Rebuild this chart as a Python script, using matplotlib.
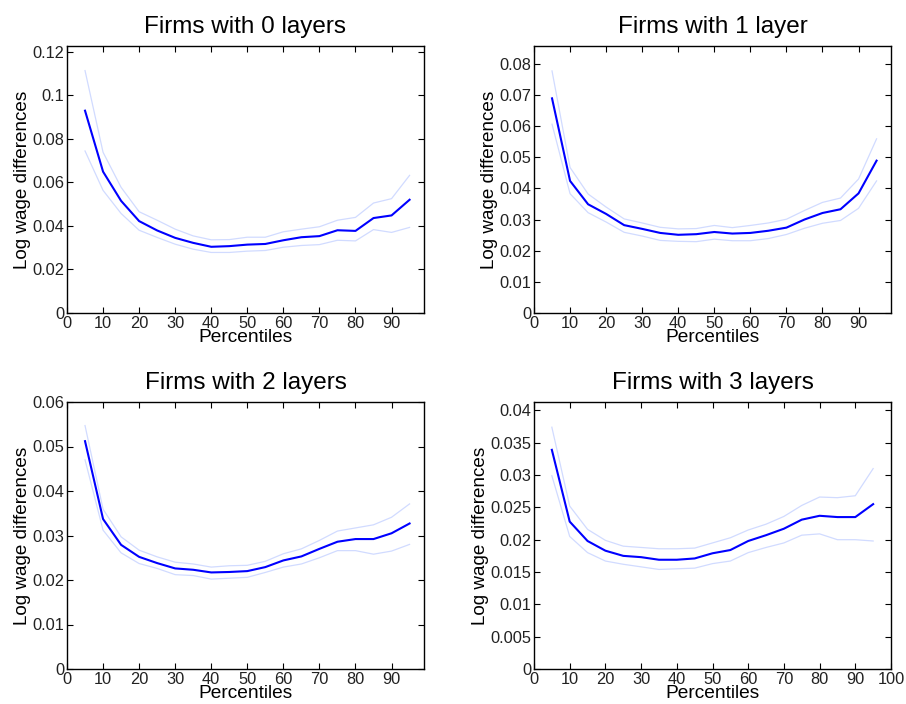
import matplotlib
matplotlib.use('Agg')
import matplotlib.pyplot as plt

plt.rcParams['font.family'] = ['Liberation Sans', 'DejaVu Sans']

pct = [5, 10, 15, 20, 25, 30, 35, 40, 45, 50, 55, 60, 65, 70, 75, 80, 85, 90, 95]

# firms with 0 layers
mid0 = [0.0929, 0.0649, 0.0515, 0.0422, 0.0379, 0.0345, 0.0322, 0.0304, 0.0307, 0.0314,
        0.0317, 0.0334, 0.0348, 0.0353, 0.0380, 0.0377, 0.0436, 0.0448, 0.0520]
hi0 = [0.1113, 0.0738, 0.0577, 0.0465, 0.0426, 0.0385, 0.0354, 0.0336, 0.0337, 0.0348,
       0.0348, 0.0373, 0.0385, 0.0396, 0.0426, 0.0439, 0.0505, 0.0525, 0.0632]
lo0 = [0.0744, 0.0563, 0.0457, 0.0380, 0.0347, 0.0316, 0.0293, 0.0278, 0.0278, 0.0284,
       0.0287, 0.0302, 0.0310, 0.0314, 0.0334, 0.0331, 0.0383, 0.0370, 0.0393]

# firms with 1 layer
mid1 = [0.0689, 0.0424, 0.0349, 0.0318, 0.0282, 0.0270, 0.0257, 0.0251, 0.0253, 0.0260,
        0.0255, 0.0257, 0.0264, 0.0274, 0.0300, 0.0321, 0.0333, 0.0384, 0.0489]
hi1 = [0.0777, 0.0467, 0.0382, 0.0340, 0.0302, 0.0289, 0.0275, 0.0270, 0.0271, 0.0281,
       0.0274, 0.0281, 0.0289, 0.0301, 0.0329, 0.0355, 0.0369, 0.0430, 0.0559]
lo1 = [0.0606, 0.0383, 0.0322, 0.0292, 0.0259, 0.0247, 0.0233, 0.0230, 0.0229, 0.0237,
       0.0232, 0.0232, 0.0239, 0.0252, 0.0272, 0.0288, 0.0297, 0.0336, 0.0424]

# firms with 2 layers
mid2 = [0.0512, 0.0337, 0.0279, 0.0252, 0.0238, 0.0226, 0.0223, 0.0217, 0.0218, 0.0220,
        0.0229, 0.0244, 0.0253, 0.0270, 0.0286, 0.0292, 0.0292, 0.0305, 0.0327]
hi2 = [0.0547, 0.0359, 0.0297, 0.0267, 0.0252, 0.0240, 0.0236, 0.0229, 0.0232, 0.0233,
       0.0242, 0.0259, 0.0270, 0.0289, 0.0310, 0.0317, 0.0324, 0.0341, 0.0371]
lo2 = [0.0470, 0.0312, 0.0261, 0.0237, 0.0226, 0.0212, 0.0210, 0.0202, 0.0204, 0.0206,
       0.0217, 0.0229, 0.0236, 0.0250, 0.0266, 0.0266, 0.0258, 0.0265, 0.0280]

# firms with 3 layers
mid3 = [0.0339, 0.0228, 0.0198, 0.0183, 0.0175, 0.0173, 0.0169, 0.0169, 0.0171, 0.0179,
        0.0184, 0.0198, 0.0207, 0.0217, 0.0231, 0.0237, 0.0235, 0.0235, 0.0255]
hi3 = [0.0374, 0.0252, 0.0216, 0.0199, 0.0190, 0.0188, 0.0186, 0.0186, 0.0187, 0.0195,
       0.0203, 0.0215, 0.0224, 0.0236, 0.0253, 0.0266, 0.0265, 0.0268, 0.0310]
lo3 = [0.0299, 0.0205, 0.0180, 0.0167, 0.0162, 0.0158, 0.0154, 0.0155, 0.0156, 0.0163,
       0.0167, 0.0180, 0.0188, 0.0195, 0.0207, 0.0209, 0.0200, 0.0200, 0.0198]

titles = ['Firms with 0 layers', 'Firms with 1 layer', 'Firms with 2 layers', 'Firms with 3 layers']
yticks = [[0, 0.02, 0.04, 0.06, 0.08, 0.1, 0.12],
          [0, 0.01, 0.02, 0.03, 0.04, 0.05, 0.06, 0.07, 0.08],
          [0, 0.01, 0.02, 0.03, 0.04, 0.05, 0.06],
          [0, 0.005, 0.01, 0.015, 0.02, 0.025, 0.03, 0.035, 0.04]]
ytick_labels = [['0', '0.02', '0.04', '0.06', '0.08', '0.1', '0.12'],
                ['0', '0.01', '0.02', '0.03', '0.04', '0.05', '0.06', '0.07', '0.08'],
                ['0', '0.01', '0.02', '0.03', '0.04', '0.05', '0.06'],
                ['0', '0.005', '0.01', '0.015', '0.02', '0.025', '0.03', '0.035', '0.04']]
ymax = [0.1226, 0.0857, 0.06, 0.0413]
xmax = [99, 99, 99, 100]
series = [(mid0, hi0, lo0), (mid1, hi1, lo1), (mid2, hi2, lo2), (mid3, hi3, lo3)]

W, H = 906, 704
boxes = [(67, 46), (534, 46), (67, 402), (534, 402)]
aw, ah = 357, 267

fig = plt.figure(figsize=(W / 100, H / 100), dpi=100)
for i in range(4):
    x0, y0 = boxes[i]
    ax = fig.add_axes([x0 / W, 1 - (y0 + ah) / H, aw / W, ah / H])
    mid, hi, lo = series[i]
    ax.plot(pct, hi, color=(0.82, 0.86, 1.0), lw=0.9)
    ax.plot(pct, lo, color=(0.82, 0.86, 1.0), lw=0.9)
    ax.plot(pct, mid, color=(0, 0, 1), lw=1.5)
    ax.set_xlim(0, xmax[i])
    ax.set_ylim(0, ymax[i])
    xt = list(range(0, xmax[i] + 1, 10))
    ax.set_xticks(xt)
    ax.set_yticks(yticks[i])
    ax.set_yticklabels(ytick_labels[i])
    ax.tick_params(direction='in', top=True, right=True, length=4, width=0.8,
                   labelsize=11.8, pad=2, labelcolor='#222222')
    for s in ax.spines.values():
        s.set_linewidth(1.0)
    ax.set_title(titles[i], fontsize=17.5, pad=9)
    ax.set_xlabel('Percentiles', fontsize=13.8, labelpad=-1)
    ax.set_ylabel('Log wage differences', fontsize=13.6, labelpad=1)

fig.savefig('out.png', dpi=100)
